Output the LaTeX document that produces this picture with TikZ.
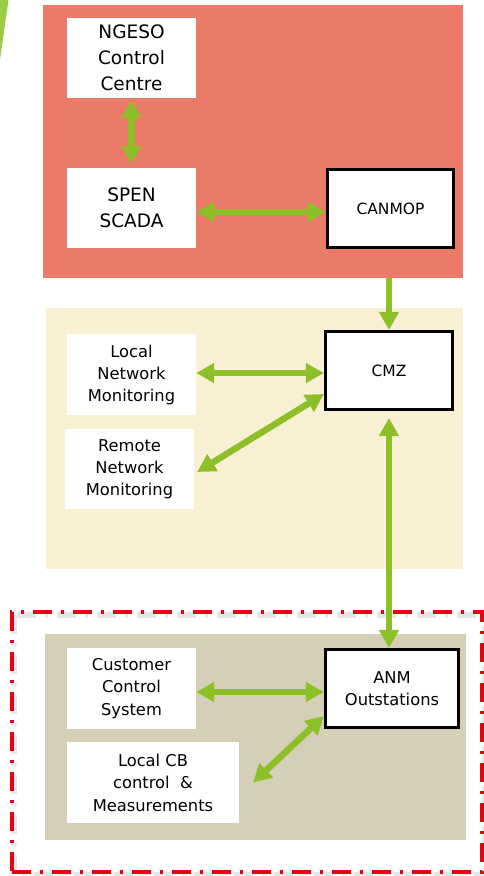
\documentclass[tikz,border=0pt]{standalone}
\usepackage{fontspec}
\setmainfont{DejaVu Sans}
\usetikzlibrary{arrows.meta}
\definecolor{panelred}{RGB}{236,122,104}
\definecolor{panelcream}{RGB}{249,240,212}
\definecolor{paneltan}{RGB}{213,207,184}
\definecolor{linkgreen}{RGB}{141,192,40}
\definecolor{wedgegreen}{RGB}{156,203,70}
\definecolor{zonered}{RGB}{232,0,20}
\begin{document}
\begin{tikzpicture}[x=1pt,y=-1pt,
  panel/.style={rectangle, inner sep=0pt, draw=none},
  whitebox/.style={rectangle, fill=white, inner sep=0pt, align=center, text=black},
  blackbox/.style={whitebox, draw=black, line width=2.6pt},
  bigtext/.style={font=\fontsize{18.5}{26}\selectfont},
  midtext/.style={font=\fontsize{16.3}{22}\selectfont},
  smalltext/.style={font=\fontsize{15.5}{20}\selectfont},
  lowtext/.style={font=\fontsize{16.3}{22.5}\selectfont},
  tip/.tip={Triangle[length=18pt 0 0,width=19pt 0 0]},
  link/.style={draw=linkgreen, line width=6.5pt, -tip},
  bilink/.style={draw=linkgreen, line width=6.5pt, tip-tip},
  zone/.style={rectangle, inner sep=0pt, draw=zonered, line width=3.5pt,
    dash pattern=on 19pt off 9pt on 3pt off 9pt},
  zoneshadow/.style={draw=black!45, line width=6pt, opacity=0.22,
    dash pattern=on 19pt off 9pt on 3pt off 9pt}
]
\useasboundingbox (0,0) rectangle (483,876);

% corner accent
\fill[wedgegreen] (0,0) -- (8.5,0) -- (0,60) -- cycle;

% background panels
\node[panel, fill=panelred, minimum width=420pt, minimum height=273pt] (toppanel) at (253,141.5) {};
\node[panel, fill=panelcream, minimum width=417pt, minimum height=261pt] (midpanel) at (254.5,438.5) {};
\node[panel, fill=paneltan, minimum width=421pt, minimum height=206pt] (botpanel) at (255.5,737) {};

% dash-dot zone frame with its soft shadow
\draw[zoneshadow] (14,615) rectangle (485,875);
\node[zone, minimum width=470pt, minimum height=260pt] (zone) at (247,742) {};

% top panel boxes
\node[whitebox, bigtext, minimum width=129pt, minimum height=80pt] (ngeso) at (131.5,58) {NGESO\\Control\\Centre};
\node[whitebox, bigtext, minimum width=129pt, minimum height=80pt] (spen) at (131.5,208) {SPEN\\SCADA};
\node[blackbox, smalltext, minimum width=126.5pt, minimum height=78.5pt] (canmop) at (390.5,208.5) {CANMOP};

% middle panel boxes
\node[whitebox, midtext, minimum width=129pt, minimum height=81pt] (lnm) at (131.5,374.5) {Local\\Network\\Monitoring};
\node[whitebox, midtext, minimum width=129pt, minimum height=80pt] (rnm) at (129.5,469) {Remote\\Network\\Monitoring};
\node[blackbox, smalltext, minimum width=127.5pt, minimum height=78.5pt] (cmz) at (389,370.5) {CMZ};

% bottom panel boxes
\node[whitebox, lowtext, minimum width=129pt, minimum height=81pt] (ccs) at (131.5,688.5) {Customer\\Control\\System};
\node[whitebox, lowtext, minimum width=172pt, minimum height=81pt] (lcb) at (153,782.5) {Local CB\\control\ \ \&\\Measurements};
\node[blackbox, lowtext, minimum width=133.5pt, minimum height=78.5pt] (anm) at (392,688.5) {ANM\\Outstations};

% connectors
\draw[bilink, shorten <=2pt, shorten >=4pt] (ngeso.south) -- (spen.north);
\draw[bilink] ([yshift=-4pt]spen.east) -- ([yshift=-4pt]spen.east -| canmop.west);
\draw[link] (cmz.north |- toppanel.south) -- (cmz.north);
\draw[bilink] ([yshift=1.5pt]lnm.east) -- ([yshift=1.5pt]lnm.east -| cmz.west);
\draw[bilink] ([yshift=-23.5pt]cmz.west) -- ([xshift=3pt,yshift=-3pt]rnm.east);
\draw[bilink, shorten <=7pt] (cmz.south) -- (cmz.south |- anm.north);
\draw[bilink] ([yshift=-3.5pt]ccs.east) -- ([yshift=-3.5pt]ccs.east -| anm.west);
\draw[bilink] ([yshift=-27.5pt]anm.west) -- ([xshift=14pt]lcb.east);
\end{tikzpicture}
\end{document}
